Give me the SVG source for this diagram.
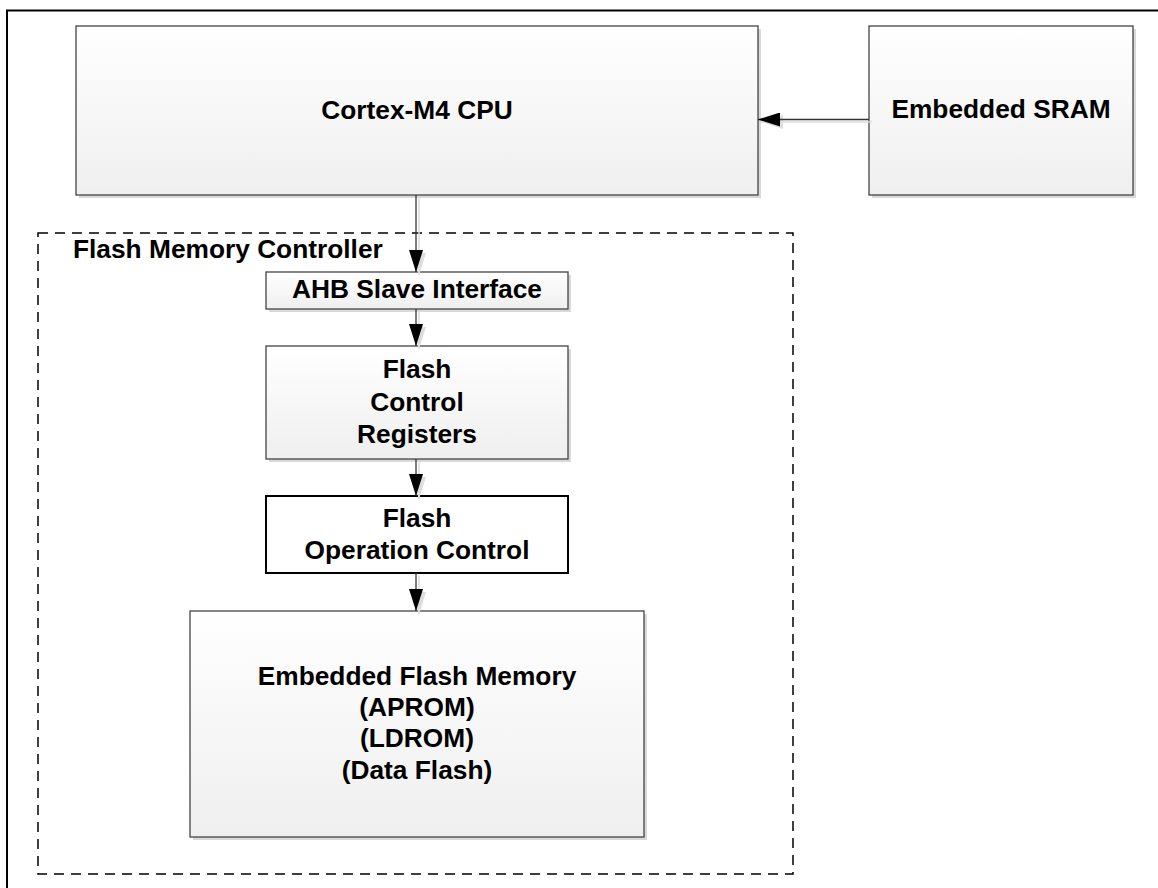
<svg xmlns="http://www.w3.org/2000/svg" width="1158" height="888" viewBox="0 0 1158 888">
<style>
text{font-family:"Liberation Sans",Arial,sans-serif;font-weight:bold;font-size:26.3px;fill:#000;text-anchor:middle}
.box{fill:url(#g);stroke:#444;stroke-width:1.3}
.shadow{fill:#d9d9d9}
.conn{stroke:#333;stroke-width:1.3;fill:none}
.cshadow{stroke:#ddd;stroke-width:1.5;fill:none}
</style>
<defs>
<linearGradient id="g" x1="0" y1="0" x2="0" y2="1">
<stop offset="0" stop-color="#ffffff"/>
<stop offset="1" stop-color="#efefef"/>
</linearGradient>
<marker id="ah" viewBox="0 0 22 14" refX="22" refY="7" markerWidth="22" markerHeight="14" markerUnits="userSpaceOnUse" orient="auto">
<path d="M0,0 L22,7 L0,14 Z" fill="#000"/>
</marker>
<marker id="ahs" viewBox="0 0 22 14" refX="22" refY="7" markerWidth="22" markerHeight="14" markerUnits="userSpaceOnUse" orient="auto">
<path d="M0,0 L22,7 L0,14 Z" fill="#ddd"/>
</marker>
</defs>
<rect width="1158" height="888" fill="#fff"/>
<path d="M7,888 V10.5 H1158" fill="none" stroke="#000" stroke-width="2"/>

<g id="flash-memory-controller">
<rect x="38" y="233" width="755" height="641" fill="none" stroke="#000" stroke-width="1.5" stroke-dasharray="10,7"/>
<text x="73" y="258" style="text-anchor:start">Flash Memory Controller</text>
</g>

<g id="cortex-m4-cpu">
<rect class="shadow" x="79" y="29" width="682" height="169"/>
<rect class="box" x="76" y="26" width="682" height="169"/>
<text x="417" y="119">Cortex-M4 CPU</text>
</g>

<g id="embedded-sram">
<rect class="shadow" x="872" y="29" width="264" height="169"/>
<rect class="box" x="869" y="26" width="264" height="169"/>
<text x="1001" y="118">Embedded SRAM</text>
</g>

<g id="ahb-slave-interface">
<rect class="shadow" x="269" y="275" width="302" height="37"/>
<rect class="box" x="266" y="272" width="302" height="37"/>
<text x="417" y="298">AHB Slave Interface</text>
</g>

<g id="flash-control-registers">
<rect class="shadow" x="269" y="349" width="302" height="113"/>
<rect class="box" x="266" y="346" width="302" height="113"/>
<text x="417" y="378">Flash</text>
<text x="417" y="411">Control</text>
<text x="417" y="443">Registers</text>
</g>

<g id="flash-operation-control">
<rect x="266" y="496" width="302" height="77" fill="#fff" stroke="#000" stroke-width="2"/>
<text x="417" y="527">Flash</text>
<text x="417" y="559">Operation Control</text>
</g>

<g id="embedded-flash-memory">
<rect class="shadow" x="193" y="614" width="454" height="226"/>
<rect class="box" x="190" y="611" width="454" height="226"/>
<text x="417" y="685">Embedded Flash Memory</text>
<text x="417" y="716">(APROM)</text>
<text x="417" y="747">(LDROM)</text>
<text x="417" y="779">(Data Flash)</text>
</g>

<g id="connectors">
<line class="cshadow" x1="872" y1="122" x2="761" y2="122" marker-end="url(#ahs)"/>
<line class="cshadow" x1="419" y1="198" x2="419" y2="275" marker-end="url(#ahs)"/>
<line class="cshadow" x1="419" y1="312" x2="419" y2="349" marker-end="url(#ahs)"/>
<line class="cshadow" x1="419" y1="462" x2="419" y2="499" marker-end="url(#ahs)"/>
<line class="cshadow" x1="419" y1="576" x2="419" y2="614" marker-end="url(#ahs)"/>
<line class="conn" x1="869" y1="119.5" x2="758" y2="119.5" marker-end="url(#ah)"/>
<line class="conn" x1="416" y1="195" x2="416" y2="272" marker-end="url(#ah)"/>
<line class="conn" x1="416" y1="309" x2="416" y2="346" marker-end="url(#ah)"/>
<line class="conn" x1="416" y1="459" x2="416" y2="496" marker-end="url(#ah)"/>
<line class="conn" x1="416" y1="573" x2="416" y2="611" marker-end="url(#ah)"/>
</g>
</svg>
